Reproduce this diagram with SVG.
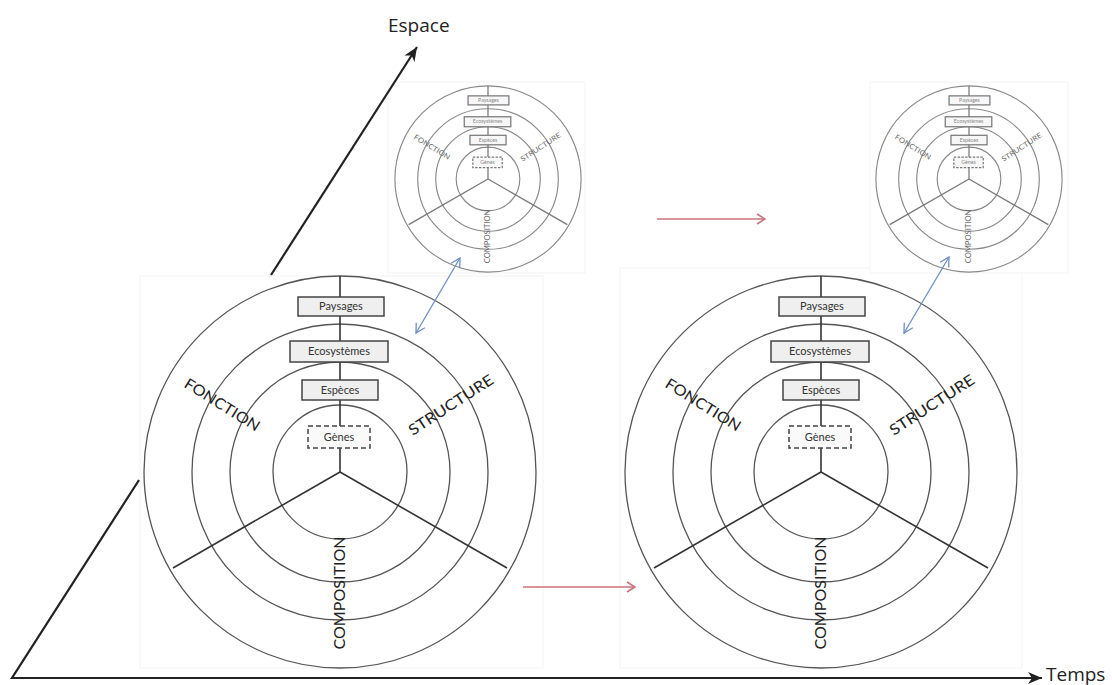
<svg xmlns="http://www.w3.org/2000/svg" width="1112" height="685" viewBox="0 0 1112 685">
<style>
.frame{fill:#ffffff;stroke:#f3f3f3;stroke-width:1}
.ring{fill:none;stroke:#555;stroke-width:1.3}
.spoke{stroke:#333;stroke-width:1.6}
.box{fill:#efefef;stroke:#444;stroke-width:1.5}
.dbox{fill:#fafafa;stroke:#444;stroke-width:1.5;stroke-dasharray:5 3}
.bt{font-family:Lato,"Liberation Sans",sans-serif;font-size:11px;fill:#333;text-anchor:middle}
.lab{font-family:Lato,"Liberation Sans",sans-serif;font-size:15px;fill:#222;text-anchor:middle}
.small .ring{stroke:#888;stroke-width:2.4}
.small .spoke{stroke:#777;stroke-width:2.6}
.small .box,.small .dbox{stroke:#777;stroke-width:2.6;fill:#f7f7f7}
.small .bt{fill:#888}
.small .lab{fill:#666}
.axis{fill:none;stroke:#222;stroke-width:2.2}
.ax{font-family:"Open Sans","Liberation Sans",sans-serif;font-size:19px;fill:#222}
.red{stroke:#c8737a;stroke-width:1.6;fill:none}
.blue{stroke:#6f8fc4;stroke-width:1.3;fill:none}
</style>
<defs>
<marker id="ah" markerUnits="userSpaceOnUse" markerWidth="16" markerHeight="14" refX="14" refY="7" orient="auto">
<path d="M0,1 L14,7 L0,13 L4,7 z" fill="#222"/>
</marker>
<marker id="rh" markerUnits="userSpaceOnUse" markerWidth="12" markerHeight="12" refX="10" refY="6" orient="auto">
<path d="M2,1 L10,6 L2,11" fill="none" stroke="#c8737a" stroke-width="1.6"/>
</marker>
<marker id="bh" markerUnits="userSpaceOnUse" markerWidth="12" markerHeight="12" refX="10" refY="6" orient="auto-start-reverse">
<path d="M1,1 L10,6 L1,11" fill="none" stroke="#6f8fc4" stroke-width="1.3"/>
</marker>
</defs>
<rect width="1112" height="685" fill="#ffffff"/>
<g id="frames">
<rect class="frame" x="140" y="276" width="403" height="392"/>
<rect class="frame" x="620" y="268" width="402" height="400"/>
<rect class="frame" x="388" y="82" width="197" height="191"/>
<rect class="frame" x="870" y="82" width="198" height="191"/>
</g>
<g id="wheel-left" transform="translate(340,472)">
<circle class="ring" r="196"/><circle class="ring" r="148"/><circle class="ring" r="110"/><circle class="ring" r="67"/>
<line class="spoke" x1="0" y1="0" x2="0" y2="-196"/>
<line class="spoke" x1="0" y1="0" x2="-167" y2="96"/>
<line class="spoke" x1="0" y1="0" x2="167" y2="96"/>
<rect class="box" x="-42" y="-175" width="86" height="19"/><text class="bt" x="1" y="-162">Paysages</text>
<rect class="box" x="-50" y="-131" width="98" height="21"/><text class="bt" x="-1" y="-117">Ecosystèmes</text>
<rect class="box" x="-38" y="-92" width="76" height="20"/><text class="bt" x="0" y="-78">Espèces</text>
<rect class="dbox" x="-32" y="-46" width="62" height="22"/><text class="bt" x="-1" y="-31">Gènes</text>
<text class="lab" transform="translate(-118,-67) rotate(32)" y="5" textLength="86" lengthAdjust="spacingAndGlyphs">FONCTION</text>
<text class="lab" transform="translate(111,-67) rotate(-33)" y="5" textLength="98" lengthAdjust="spacingAndGlyphs">STRUCTURE</text>
<text class="lab" transform="translate(0,121) rotate(-90)" y="5" textLength="113" lengthAdjust="spacingAndGlyphs">COMPOSITION</text>
</g>
<g id="wheel-right" transform="translate(821,472)">
<circle class="ring" r="196"/><circle class="ring" r="148"/><circle class="ring" r="110"/><circle class="ring" r="67"/>
<line class="spoke" x1="0" y1="0" x2="0" y2="-196"/>
<line class="spoke" x1="0" y1="0" x2="-167" y2="96"/>
<line class="spoke" x1="0" y1="0" x2="167" y2="96"/>
<rect class="box" x="-42" y="-175" width="86" height="19"/><text class="bt" x="1" y="-162">Paysages</text>
<rect class="box" x="-50" y="-131" width="98" height="21"/><text class="bt" x="-1" y="-117">Ecosystèmes</text>
<rect class="box" x="-38" y="-92" width="76" height="20"/><text class="bt" x="0" y="-78">Espèces</text>
<rect class="dbox" x="-32" y="-46" width="62" height="22"/><text class="bt" x="-1" y="-31">Gènes</text>
<text class="lab" transform="translate(-118,-67) rotate(32)" y="5" textLength="86" lengthAdjust="spacingAndGlyphs">FONCTION</text>
<text class="lab" transform="translate(111,-67) rotate(-33)" y="5" textLength="98" lengthAdjust="spacingAndGlyphs">STRUCTURE</text>
<text class="lab" transform="translate(0,121) rotate(-90)" y="5" textLength="113" lengthAdjust="spacingAndGlyphs">COMPOSITION</text>
</g>
<g id="wheel-small-left" class="small" transform="translate(488,179) scale(0.475)">
<circle class="ring" r="196"/><circle class="ring" r="148"/><circle class="ring" r="110"/><circle class="ring" r="67"/>
<line class="spoke" x1="0" y1="0" x2="0" y2="-196"/>
<line class="spoke" x1="0" y1="0" x2="-167" y2="96"/>
<line class="spoke" x1="0" y1="0" x2="167" y2="96"/>
<rect class="box" x="-42" y="-175" width="86" height="19"/><text class="bt" x="1" y="-162">Paysages</text>
<rect class="box" x="-50" y="-131" width="98" height="21"/><text class="bt" x="-1" y="-117">Ecosystèmes</text>
<rect class="box" x="-38" y="-92" width="76" height="20"/><text class="bt" x="0" y="-78">Espèces</text>
<rect class="dbox" x="-32" y="-46" width="62" height="22"/><text class="bt" x="-1" y="-31">Gènes</text>
<text class="lab" transform="translate(-118,-67) rotate(32)" y="5" textLength="86" lengthAdjust="spacingAndGlyphs">FONCTION</text>
<text class="lab" transform="translate(111,-67) rotate(-33)" y="5" textLength="98" lengthAdjust="spacingAndGlyphs">STRUCTURE</text>
<text class="lab" transform="translate(0,121) rotate(-90)" y="5" textLength="113" lengthAdjust="spacingAndGlyphs">COMPOSITION</text>
</g>
<g id="wheel-small-right" class="small" transform="translate(969,179) scale(0.475)">
<circle class="ring" r="196"/><circle class="ring" r="148"/><circle class="ring" r="110"/><circle class="ring" r="67"/>
<line class="spoke" x1="0" y1="0" x2="0" y2="-196"/>
<line class="spoke" x1="0" y1="0" x2="-167" y2="96"/>
<line class="spoke" x1="0" y1="0" x2="167" y2="96"/>
<rect class="box" x="-42" y="-175" width="86" height="19"/><text class="bt" x="1" y="-162">Paysages</text>
<rect class="box" x="-50" y="-131" width="98" height="21"/><text class="bt" x="-1" y="-117">Ecosystèmes</text>
<rect class="box" x="-38" y="-92" width="76" height="20"/><text class="bt" x="0" y="-78">Espèces</text>
<rect class="dbox" x="-32" y="-46" width="62" height="22"/><text class="bt" x="-1" y="-31">Gènes</text>
<text class="lab" transform="translate(-118,-67) rotate(32)" y="5" textLength="86" lengthAdjust="spacingAndGlyphs">FONCTION</text>
<text class="lab" transform="translate(111,-67) rotate(-33)" y="5" textLength="98" lengthAdjust="spacingAndGlyphs">STRUCTURE</text>
<text class="lab" transform="translate(0,121) rotate(-90)" y="5" textLength="113" lengthAdjust="spacingAndGlyphs">COMPOSITION</text>
</g>
<g id="connectors">
<path class="axis" d="M139,480 L12,678 L1042,678" marker-end="url(#ah)"/>
<line class="axis" x1="271" y1="275" x2="417" y2="47" marker-end="url(#ah)"/>
<line class="red" x1="657" y1="219" x2="765" y2="219" marker-end="url(#rh)"/>
<line class="red" x1="523" y1="587" x2="635" y2="587" marker-end="url(#rh)"/>
<line class="blue" x1="416" y1="333" x2="460" y2="258" marker-start="url(#bh)" marker-end="url(#bh)"/>
<line class="blue" x1="904" y1="333" x2="949" y2="257" marker-start="url(#bh)" marker-end="url(#bh)"/>
</g>
<g id="axis-labels">
<text class="ax" x="388" y="32">Espace</text>
<text class="ax" x="1046" y="681">Temps</text>
</g>
</svg>
